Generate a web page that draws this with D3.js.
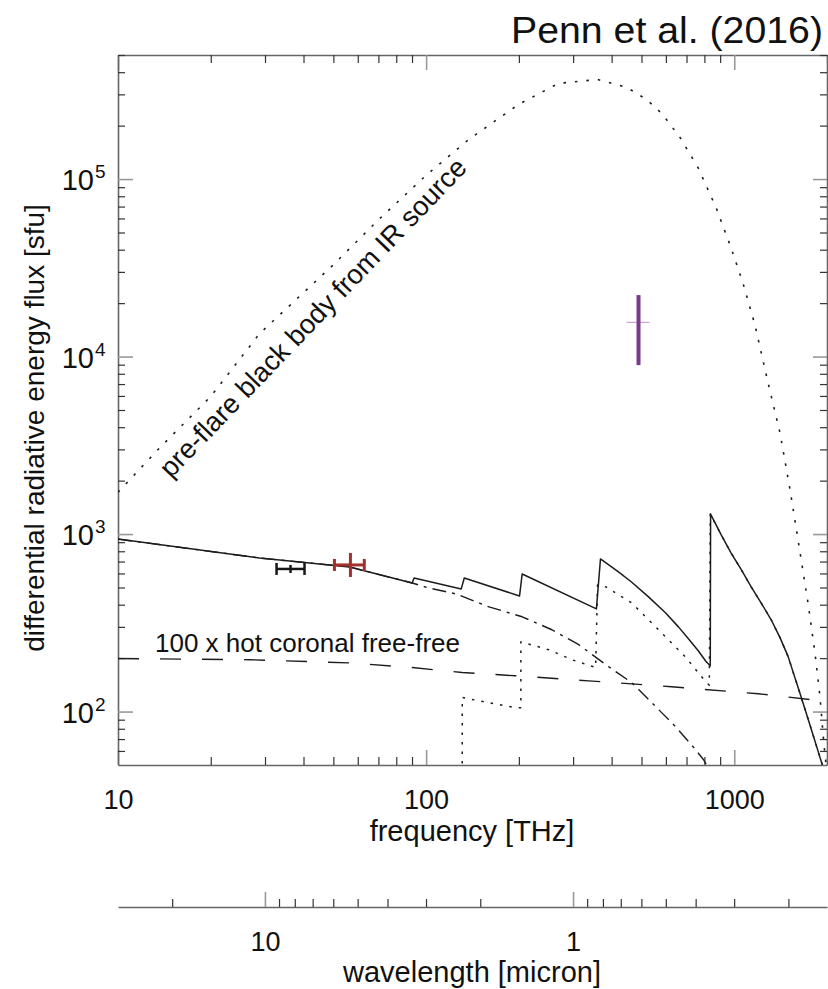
<!DOCTYPE html>
<html>
<head>
<meta charset="utf-8">
<script src="https://cdn.jsdelivr.net/npm/d3@7"></script>
<style>
  body { margin: 0; background: #fff; }
  svg { display: block; font-family: "Liberation Sans", Arial, sans-serif; }
</style>
</head>
<body>
<div id="chart"></div>
<script>
const C_UM_THZ = 299.79; // wavelength [micron] * frequency [THz]

// pre-flare black body (dotted)
var bbFreq = [10, 13.7, 20, 28.8, 50, 70.5, 100, 138, 200, 269, 360, 447, 519, 585, 669, 765, 874, 977, 1069, 1169, 1289, 1409, 1518, 1636, 1735, 1828, 1898, 1955, 2000];
var bbFlux = [1720, 3080, 5960, 13460, 32900, 59600, 105000, 168000, 264000, 346000, 364000, 329000, 281000, 232000, 170000, 115000, 68700, 40900, 25700, 14930, 7050, 3690, 1770, 782, 410, 214, 121, 65, 45];

// total model (solid)
var totFreq = [10, 28.8, 56.4, 90.1, 91.4, 130, 133, 201, 205, 357, 368, 421, 464, 527, 598, 659, 710, 764, 811, 836, 838,
  908, 977, 1055, 1135, 1222, 1318, 1409, 1496, 1563, 1636, 1763, 1898, 1955, 2000];
var totFlux = [937, 733, 653, 530, 566, 491, 566, 448, 596, 379, 724, 612, 537, 443, 360, 300, 257, 220, 191, 181, 1296,
  987, 782, 628, 504, 410, 329, 260, 204, 161, 126, 83.4, 55.2, 46.7, 40];

// free-bound component (dotted)
var fbFreq = [131, 131, 195, 203, 203, 250, 297, 355, 360, 383, 464, 568, 693, 811, 830, 836,
  908, 977, 1055, 1135, 1222, 1318, 1409, 1496, 1563, 1636, 1763, 1898, 1955, 2000];
var fbFlux = [45, 120, 105, 105, 247, 223, 196, 177, 517, 504, 410, 289, 204, 146, 141, 1296,
  987, 782, 628, 504, 410, 329, 260, 204, 161, 126, 83.4, 55.2, 46.7, 40];

// free-free component (dash-dot)
var ffFreq = [10, 28.8, 56.4, 90.1, 102, 125, 160, 205, 256, 313, 391, 464, 555, 644, 748, 794, 850];
var ffFlux = [937, 733, 653, 530, 497, 460, 389, 342, 289, 238, 179, 146, 107, 82.4, 61.2, 53.7, 44];

// 100 x hot coronal free-free (dashed)
var corFreq = [10, 26.7, 56.4, 90.1, 131, 195, 337, 625, 1197, 2000];
var corFlux = [199, 196, 188, 177, 166, 159, 149, 138, 126, 114];

// observations with error bars
var obsColor = ["#161616", "#a3302c", "#7a3a8c"];
var obsFreq = [36.3, 56.8, 489];
var obsFreqLo = [32.7, 50.4, 447];
var obsFreqHi = [40.3, 63.0, 531];
var obsFlux = [636, 670, 15600];
var obsFluxLo = [604, 573, 8950];
var obsFluxHi = [670, 782, 22200];

var xTicks = [10, 20, 30, 40, 50, 60, 70, 80, 90, 100, 200, 300, 400, 500, 600, 700, 800, 900, 1000, 2000];
var xTickLabels = [10, 100, 1000];
var yTicks = [60, 70, 80, 90, 100, 200, 300, 400, 500, 600, 700, 800, 900,
  1000, 2000, 3000, 4000, 5000, 6000, 7000, 8000, 9000,
  10000, 20000, 30000, 40000, 50000, 60000, 70000, 80000, 90000,
  100000, 200000, 300000, 400000, 500000];
var yTickLabels = [100, 1000, 10000, 100000];
var yTickExp = ["2", "3", "4", "5"];
var lamTicks = [20, 10, 9, 8, 7, 6, 5, 4, 3, 2, 1, 0.9, 0.8, 0.7, 0.6, 0.5, 0.4, 0.3, 0.2];
var lamTickLabels = [10, 1];

var width = 828, height = 989;
var plotLeft = 118, plotRight = 827, plotTop = 55, plotBottom = 765;

var svg = d3.select("#chart").append("svg")
  .attr("width", width)
  .attr("height", height);

var x = d3.scaleLog().domain([10, 2000]).range([plotLeft, plotRight]);
var y = d3.scaleLog().domain([50, 5e5]).range([plotBottom, plotTop]);
var lam = d3.scaleLog().domain([C_UM_THZ / 10, C_UM_THZ / 2000]).range([plotLeft, plotRight]);

svg.append("clipPath").attr("id", "plot-clip")
  .append("rect")
  .attr("x", plotLeft).attr("y", plotTop)
  .attr("width", plotRight - plotLeft).attr("height", plotBottom - plotTop);

function styleAxis(g, majors, attr, majorLen) {
  g.select(".domain").attr("stroke", "#666").attr("stroke-width", 1.6);
  g.selectAll(".tick line").attr("stroke", "#333").attr("stroke-width", 1.2);
  g.selectAll(".tick")
    .filter(function (d) { return majors.indexOf(d) >= 0; })
    .select("line")
    .attr(attr, majorLen)
    .attr("stroke", "#999")
    .attr("stroke-width", 1.6);
  g.attr("font-family", null).attr("font-size", 27);
  g.selectAll(".tick text").attr("fill", "#111");
}

// frequency axes
svg.append("g")
  .attr("transform", "translate(0," + plotBottom + ")")
  .call(d3.axisBottom(x).tickValues(xTicks).tickSizeInner(-8).tickSizeOuter(0).tickPadding(25)
    .tickFormat(function (d) { return xTickLabels.indexOf(d) >= 0 ? d : ""; }))
  .call(styleAxis, xTickLabels, "y2", -15);

svg.append("g")
  .attr("transform", "translate(0," + plotTop + ")")
  .call(d3.axisTop(x).tickValues(xTicks).tickSizeInner(-8).tickSizeOuter(0).tickFormat(""))
  .call(styleAxis, xTickLabels, "y2", 15);

svg.append("g")
  .attr("transform", "translate(" + plotLeft + ",0)")
  .call(d3.axisLeft(y).tickValues(yTicks).tickSizeInner(-7).tickSizeOuter(0).tickFormat(""))
  .call(styleAxis, yTickLabels, "x2", 15);

svg.append("g")
  .attr("transform", "translate(" + plotRight + ",0)")
  .call(d3.axisRight(y).tickValues(yTicks).tickSizeInner(-7).tickSizeOuter(0).tickFormat(""))
  .call(styleAxis, yTickLabels, "x2", -14);

// y tick labels as 10^n
var yLab = svg.append("g").attr("fill", "#111");
yTickLabels.forEach(function (v, i) {
  yLab.append("text")
    .attr("x", 94).attr("y", y(v) + 11)
    .attr("text-anchor", "end")
    .attr("font-size", 29)
    .text("10");
  yLab.append("text")
    .attr("x", 95).attr("y", y(v) - 1)
    .attr("font-size", 19)
    .text(yTickExp[i]);
});

// wavelength axis
svg.append("g")
  .attr("transform", "translate(0,907)")
  .call(d3.axisBottom(lam).tickValues(lamTicks).tickSizeInner(-8).tickSizeOuter(0).tickPadding(25)
    .tickFormat(function (d) { return lamTickLabels.indexOf(d) >= 0 ? d : ""; }))
  .call(styleAxis, lamTickLabels, "y2", -15);

// axis titles
svg.append("text")
  .attr("transform", "translate(44,428) rotate(-90)")
  .attr("text-anchor", "middle")
  .attr("font-size", 28)
  .attr("fill", "#111")
  .text("differential radiative energy flux [sfu]");

svg.append("text")
  .attr("x", 472).attr("y", 841)
  .attr("text-anchor", "middle")
  .attr("font-size", 29)
  .attr("fill", "#111")
  .text("frequency [THz]");

svg.append("text")
  .attr("x", 472).attr("y", 982)
  .attr("text-anchor", "middle")
  .attr("font-size", 29)
  .attr("fill", "#111")
  .text("wavelength [micron]");

svg.append("text")
  .attr("x", 511).attr("y", 43)
  .attr("font-size", 36)
  .attr("textLength", 312)
  .attr("lengthAdjust", "spacingAndGlyphs")
  .attr("fill", "#111")
  .text("Penn et al. (2016)");

// curves
var line = d3.line()
  .x(function (d) { return x(d[0]); })
  .y(function (d) { return y(d[1]); });

var plot = svg.append("g").attr("clip-path", "url(#plot-clip)");

var curves = [
  { f: corFreq, v: corFlux, dash: "21,21", w: 1.4 },
  { f: ffFreq, v: ffFlux, dash: "14,6,3,6", w: 1.4 },
  { f: fbFreq, v: fbFlux, dash: "2.5,7", w: 1.5 },
  { f: bbFreq, v: bbFlux, dash: "2.5,9", w: 1.6 },
  { f: totFreq, v: totFlux, dash: null, w: 1.5 },
];

curves.forEach(function (c) {
  plot.append("path")
    .datum(d3.zip(c.f, c.v))
    .attr("d", line)
    .attr("fill", "none")
    .attr("stroke", "#1c1c1c")
    .attr("stroke-width", c.w)
    .attr("stroke-linejoin", "round")
    .attr("stroke-dasharray", c.dash);
});

// error bars
var obs = plot.append("g");
// black IR point
obs.append("line")
  .attr("x1", x(obsFreqLo[0])).attr("x2", x(obsFreqHi[0]))
  .attr("y1", y(obsFlux[0])).attr("y2", y(obsFlux[0]))
  .attr("stroke", obsColor[0]).attr("stroke-width", 2.5);
[obsFreqLo[0], obsFreqHi[0]].forEach(function (f) {
  obs.append("line")
    .attr("x1", x(f)).attr("x2", x(f))
    .attr("y1", y(obsFlux[0]) - 6).attr("y2", y(obsFlux[0]) + 6)
    .attr("stroke", obsColor[0]).attr("stroke-width", 2.5);
});
obs.append("line")
  .attr("x1", x(obsFreq[0])).attr("x2", x(obsFreq[0]))
  .attr("y1", y(obsFluxHi[0])).attr("y2", y(obsFluxLo[0]))
  .attr("stroke", obsColor[0]).attr("stroke-width", 2.5);

// red IR point
obs.append("line")
  .attr("x1", x(obsFreqLo[1])).attr("x2", x(obsFreqHi[1]))
  .attr("y1", y(obsFlux[1])).attr("y2", y(obsFlux[1]))
  .attr("stroke", obsColor[1]).attr("stroke-width", 3);
[obsFreqLo[1], obsFreqHi[1]].forEach(function (f) {
  obs.append("line")
    .attr("x1", x(f)).attr("x2", x(f))
    .attr("y1", y(obsFlux[1]) - 6).attr("y2", y(obsFlux[1]) + 6)
    .attr("stroke", obsColor[1]).attr("stroke-width", 3);
});
obs.append("line")
  .attr("x1", x(obsFreq[1])).attr("x2", x(obsFreq[1]))
  .attr("y1", y(obsFluxHi[1])).attr("y2", y(obsFluxLo[1]))
  .attr("stroke", obsColor[1]).attr("stroke-width", 3);

// purple white-light point
obs.append("line")
  .attr("x1", x(obsFreqLo[2])).attr("x2", x(obsFreqHi[2]))
  .attr("y1", y(obsFlux[2])).attr("y2", y(obsFlux[2]))
  .attr("stroke", "#c48fd2").attr("stroke-width", 1);
obs.append("line")
  .attr("x1", x(obsFreq[2])).attr("x2", x(obsFreq[2]))
  .attr("y1", y(obsFluxHi[2])).attr("y2", y(obsFluxLo[2]))
  .attr("stroke", obsColor[2]).attr("stroke-width", 4);

// curve annotations
svg.append("text")
  .attr("transform", "translate(171,479) rotate(-46.2)")
  .attr("font-size", 27.5)
  .attr("fill", "#111")
  .text("pre-flare black body from IR source");

svg.append("text")
  .attr("x", 155).attr("y", 652)
  .attr("font-size", 26)
  .attr("fill", "#111")
  .text("100 x hot coronal free-free");
</script>
</body>
</html>
